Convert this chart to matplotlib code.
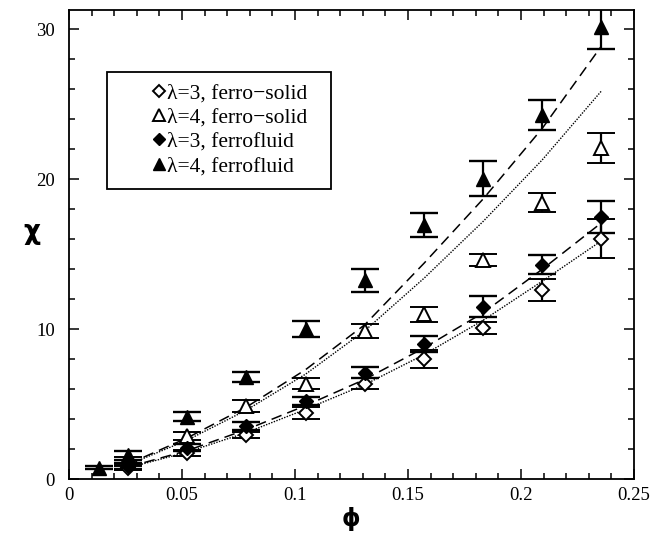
import matplotlib
matplotlib.use("Agg")
import matplotlib.pyplot as plt
from matplotlib.lines import Line2D
from matplotlib.patches import Rectangle
from matplotlib.ticker import MultipleLocator

# volume fraction phi
phi = [0.0131, 0.0262, 0.0524, 0.0785, 0.1047, 0.1309, 0.1571, 0.1833, 0.2094, 0.2356]

# simulation points (chi) with error bars
ff4 = [0.75, 1.6, 4.15, 6.8, 10.0, 13.25, 16.95, 20.05, 24.3, 30.15]
ff4_err = [0.1, 0.3, 0.3, 0.35, 0.53, 0.78, 0.83, 1.17, 1.0, 1.45]

fs4 = [1.2, 2.85, 4.88, 6.35, 9.9, 11.0, 14.6, 18.45, 22.1]
fs4_err = [0.25, 0.28, 0.39, 0.37, 0.47, 0.5, 0.4, 0.65, 1.0]

ff3 = [0.85, 2.1, 3.55, 5.2, 7.1, 9.0, 11.5, 14.3, 17.5]
ff3_err = [0.2, 0.23, 0.28, 0.25, 0.37, 0.53, 0.7, 0.65, 1.07]

fs3 = [0.75, 1.75, 2.95, 4.42, 6.35, 8.0, 10.1, 12.6, 16.05]
fs3_err = [0.15, 0.2, 0.2, 0.4, 0.37, 0.6, 0.41, 0.72, 1.33]

# theory curves
th_ff4 = [1.0, 2.75, 4.8, 7.3, 10.3, 14.4, 18.7, 23.4, 28.9]
th_fs4 = [0.95, 2.6, 4.6, 7.0, 9.9, 13.4, 17.2, 21.3, 25.9]
th_ff3 = [0.8, 1.9, 3.3, 4.9, 6.65, 8.75, 11.1, 14.0, 17.1]
th_fs3 = [0.75, 1.8, 3.1, 4.65, 6.3, 8.3, 10.6, 13.2, 15.9]

labels = ["\u03bb=3, ferro\u2212solid", "\u03bb=4, ferro\u2212solid",
          "\u03bb=3, ferrofluid", "\u03bb=4, ferrofluid"]

plt.rcParams['font.family'] = ['Liberation Serif', 'DejaVu Serif']

fig = plt.figure(figsize=(6.52, 5.33), dpi=100)
ax = fig.add_axes([0.1058, 0.1013, 0.8666, 0.8799])

x2 = phi[1:]
ax.plot(x2, th_ff4, color='k', lw=1.1, dashes=(7, 4))
ax.plot(x2, th_fs4, color='k', lw=1.0, ls=(0, (1, 1)))
ax.plot(x2, th_ff3, color='k', lw=1.1, dashes=(7, 4))
ax.plot(x2, th_fs3, color='k', lw=1.0, ls=(0, (1, 1)))

eb = dict(ecolor='k', capsize=10, elinewidth=1.6, capthick=1.7, ls='none')
ax.errorbar(x2, fs3, yerr=fs3_err, fmt='D', ms=7.5, mfc='white', mec='k', mew=1.4, **eb)
ax.errorbar(x2, fs4, yerr=fs4_err, fmt='^', ms=10, mfc='white', mec='k', mew=1.4, **eb)
ax.errorbar(x2, ff3, yerr=ff3_err, fmt='D', ms=7.5, mfc='k', mec='k', **eb)
ax.errorbar(phi, ff4, yerr=ff4_err, fmt='^', ms=10, mfc='k', mec='k', **eb)

ax.set_xlim(0, 0.25)
ax.set_ylim(0, 31.3)
ax.xaxis.set_minor_locator(MultipleLocator(0.01))
ax.yaxis.set_major_locator(MultipleLocator(10))
ax.yaxis.set_minor_locator(MultipleLocator(2))
ax.set_xticks([0, 0.05, 0.1, 0.15, 0.2, 0.25])
ax.set_xticklabels(["0", "0.05", "0.1", "0.15", "0.2", "0.25"])
ax.tick_params(which='both', direction='in', top=True, right=True, labelsize=13.5, width=1.1)
ax.tick_params(which='major', length=7)
ax.tick_params(which='minor', length=4)
ax.tick_params(axis='y', which='major', pad=10)
ax.tick_params(axis='x', which='major', pad=6)
for s in ax.spines.values():
    s.set_linewidth(1.3)

ax.set_xlabel("\u03d5", family='DejaVu Sans', fontsize=17, fontweight='bold', labelpad=2)
ax.set_ylabel("\u03c7", family='DejaVu Sans', fontsize=19, fontweight='bold', rotation=0)
ax.yaxis.set_label_coords(-0.065, 0.5)

handles = [
    Line2D([], [], marker='D', ms=6.5, mfc='white', mec='k', mew=1.4, ls='none'),
    Line2D([], [], marker='^', ms=9, mfc='white', mec='k', mew=1.4, ls='none'),
    Line2D([], [], marker='D', ms=6.5, mfc='k', mec='k', ls='none'),
    Line2D([], [], marker='^', ms=9, mfc='k', mec='k', ls='none'),
]
fig.legend(handles, labels, loc='upper left', bbox_to_anchor=(154 / 652, 1 - 83 / 533),
           fontsize=15.5, frameon=False, handlelength=0.5, handletextpad=0.12,
           labelspacing=0.2, borderpad=0, borderaxespad=0)
fig.patches.append(Rectangle((107 / 652, 1 - 189 / 533), 224 / 652, 117 / 533,
                             transform=fig.transFigure, fill=False, ec='k', lw=1.3))

fig.savefig("out.png", dpi=100)
